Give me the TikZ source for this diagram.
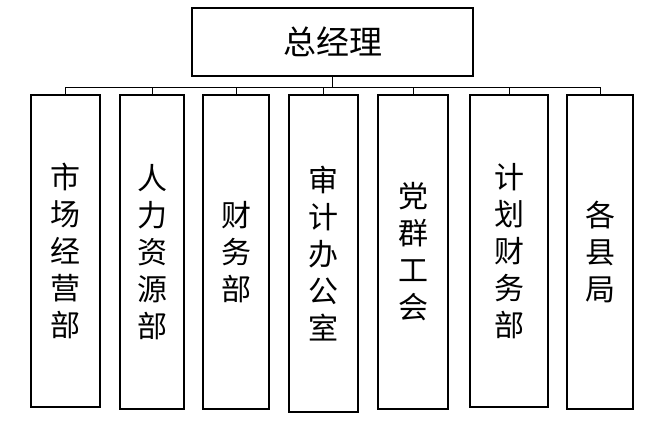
\documentclass[tikz,border=0pt]{standalone}
\usepackage{fontspec}
\newfontfamily\cjk{Noto Sans CJK SC}
\begin{document}
\begin{tikzpicture}[x=1pt,y=-1pt,
  box/.style={draw,line width=2.2pt,inner sep=0pt},
  vtxt/.style={font=\cjk\fontsize{30}{37}\selectfont,align=center},
  conn/.style={line width=0.8pt}]
\useasboundingbox (0,0) rectangle (646,423);
\node[box,minimum width=281pt,minimum height=68pt,font=\cjk\fontsize{33}{36}\selectfont] (top) at (332.5,42) {总经理};
\coordinate (bl) at (65.5,87);
\coordinate (br) at (600,87);
\coordinate (tb) at (332.5,87);
\draw[conn] (top.south) -- (tb);
\draw[conn] (bl) -- (br);
\foreach \n/\xa/\xb/\yb/\t in {
 a/31/100/407/{市\\场\\经\\营\\部},
 b/120/184/409/{人\\力\\资\\源\\部},
 c/203/269/409/{财\\务\\部},
 d/289/358/412/{审\\计\\办\\公\\室},
 e/378/448/409/{党\\群\\工\\会},
 f/470/548/407/{计\\划\\财\\务\\部},
 g/567/633/409/{各\\县\\局}}{
  \draw[box] (\xa,95) rectangle (\xb,\yb);
  \node[vtxt] (\n) at ({(\xa+\xb)/2},{(95+\yb)/2}) {\t};
  \coordinate (\n t) at ({(\xa+\xb)/2},95);
  \coordinate (\n b) at ({(\xa+\xb)/2},87);
  \draw[conn] (\n b) -- (\n t);
}
\end{tikzpicture}
\end{document}
